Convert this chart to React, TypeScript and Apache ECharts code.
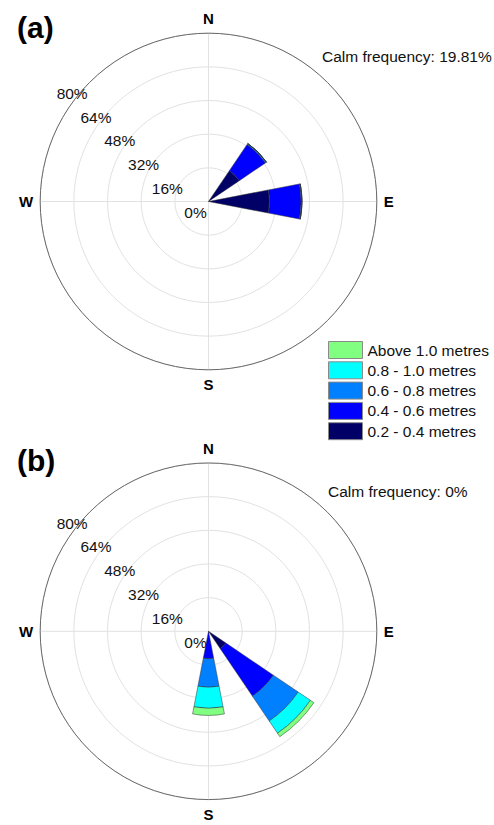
import React, { useEffect, useRef } from 'react';
import * as echarts from 'echarts';

const directions = ['N', 'NNE', 'NE', 'ENE', 'E', 'ESE', 'SE', 'SSE', 'S', 'SSW', 'SW', 'WSW', 'W', 'WNW', 'NW', 'NNW'];
const compassLabels = ['N', 'E', 'S', 'W'];
const radiusTicks = [0, 16, 32, 48, 64, 80];
const classNames = ['0.2 - 0.4 metres', '0.4 - 0.6 metres', '0.6 - 0.8 metres', '0.8 - 1.0 metres', 'Above 1.0 metres'];
const legendOrder = ['Above 1.0 metres', '0.8 - 1.0 metres', '0.6 - 0.8 metres', '0.4 - 0.6 metres', '0.2 - 0.4 metres'];
const classColors = ['#000066', '#0000FF', '#0080FF', '#00FFFF', '#80FF80'];

// Panel (a) frequency (%) per direction, per wave-height class
const a_h02_04 = [0, 0, 17.7, 0, 29, 0, 0, 0, 0, 0, 0, 0, 0, 0, 0, 0];
const a_h04_06 = [0, 0, 15.0, 0, 15, 0, 0, 0, 0, 0, 0, 0, 0, 0, 0, 0];
const a_h06_08 = [0, 0, 0.6, 0, 0.4, 0, 0, 0, 0, 0, 0, 0, 0, 0, 0, 0];
const a_h08_10 = [0, 0, 0, 0, 0, 0, 0, 0, 0, 0, 0, 0, 0, 0, 0, 0];
const a_h10_up = [0, 0, 0, 0, 0, 0, 0, 0, 0, 0, 0, 0, 0, 0, 0, 0];

// Panel (b)
const b_h02_04 = [0, 0, 0, 0, 0, 0, 10, 0, 0.5, 0, 0, 0, 0, 0, 0, 0];
const b_h04_06 = [0, 0, 0, 0, 0, 0, 27.2, 0, 12.5, 0, 0, 0, 0, 0, 0, 0];
const b_h06_08 = [0, 0, 0, 0, 0, 0, 14.3, 0, 13.6, 0, 0, 0, 0, 0, 0, 0];
const b_h08_10 = [0, 0, 0, 0, 0, 0, 7.0, 0, 10.0, 0, 0, 0, 0, 0, 0, 0];
const b_h10_up = [0, 0, 0, 0, 0, 0, 2.0, 0, 3.4, 0, 0, 0, 0, 0, 0, 0];

const calmA = '19.81%';
const calmB = '0%';

const FONT = '"Liberation Sans", Arial, sans-serif';

export default function App() {
  const ref = useRef<HTMLDivElement>(null);
  useEffect(() => {
    if (!ref.current) return;
    const chart = echarts.init(ref.current, undefined, { renderer: 'svg' });

    const R = 168.3;
    const panels = [
      { center: [208.5, 201.5], data: [a_h02_04, a_h04_06, a_h06_08, a_h08_10, a_h10_up], stack: 'a' },
      { center: [208.5, 631.3], data: [b_h02_04, b_h04_06, b_h06_08, b_h08_10, b_h10_up], stack: 'b' },
    ];

    const polar: any[] = [];
    const angleAxis: any[] = [];
    const radiusAxis: any[] = [];
    const series: any[] = [];

    panels.forEach((p, pi) => {
      const base = pi * 3;
      // bars polar
      polar.push({ center: p.center, radius: R });
      angleAxis.push({
        polarIndex: base, type: 'category', data: directions, startAngle: 101.25, clockwise: true,
        boundaryGap: true, axisLine: { show: false }, axisTick: { show: false }, axisLabel: { show: false }, splitLine: { show: false },
      });
      radiusAxis.push({
        polarIndex: base, type: 'value', min: 0, max: 80, interval: 16,
        axisLine: { show: false }, axisTick: { show: false }, axisLabel: { show: false }, splitLine: { show: false },
      });
      // grid polar
      polar.push({ center: p.center, radius: R });
      angleAxis.push({
        polarIndex: base + 1, type: 'value', min: 0, max: 360, interval: 90, startAngle: 90, clockwise: true,
        axisLine: { show: true, lineStyle: { color: '#6a6a6a', width: 1 } },
        axisTick: { show: false },
        axisLabel: {
          show: true, margin: 7, fontFamily: FONT, fontSize: 15, fontWeight: 'bold', color: '#000',
          formatter: (v: number) => compassLabels[Math.round(v / 90)] ?? '',
        },
        splitLine: { show: true, lineStyle: { color: '#e2e2e2', width: 1 } },
        z: 0,
      });
      radiusAxis.push({
        polarIndex: base + 1, type: 'value', min: 0, max: 80, interval: 16,
        axisLine: { show: false }, axisTick: { show: false }, axisLabel: { show: false },
        splitLine: { show: true, lineStyle: { color: '#e2e2e2', width: 1 } },
        z: 0,
      });
      // label polar (offset slightly so labels sit below-left of the rings)
      polar.push({ center: [p.center[0] + 1, p.center[1] + 8], radius: R });
      angleAxis.push({
        polarIndex: base + 2, type: 'value', min: 0, max: 360, startAngle: 135,
        axisLine: { show: false }, axisTick: { show: false }, axisLabel: { show: false }, splitLine: { show: false },
      });
      radiusAxis.push({
        polarIndex: base + 2, type: 'value', min: radiusTicks[0], max: radiusTicks[radiusTicks.length - 1], interval: radiusTicks[1] - radiusTicks[0],
        axisLine: { show: false }, axisTick: { show: false }, splitLine: { show: false },
        axisLabel: { show: true, margin: 4, fontFamily: FONT, fontSize: 15.5, color: '#111', formatter: '{value}%' },
      });

      p.data.forEach((d, ci) => {
        series.push({
          type: 'bar', name: classNames[ci], coordinateSystem: 'polar', polarIndex: base,
          stack: p.stack, data: d, barCategoryGap: '3%',
          itemStyle: { color: classColors[ci], borderColor: '#333', borderWidth: 0.5 },
          emphasis: { disabled: true },
        });
      });
    });

    chart.setOption({
      animation: false,
      polar, angleAxis, radiusAxis, series,
      legend: {
        data: legendOrder, orient: 'vertical', left: 328, top: 341, padding: 0,
        itemWidth: 34, itemHeight: 17, itemGap: 2.3, icon: 'rect',
        itemStyle: { borderColor: '#8a8a8a', borderWidth: 1 },
        textStyle: { fontFamily: FONT, fontSize: 15.5, color: '#111' },
        selectedMode: false,
      },
      graphic: [
        { type: 'text', left: 17, top: 12, style: { text: '(a)', font: `bold 30px ${FONT}`, fill: '#000' } },
        { type: 'text', left: 17, top: 445, style: { text: '(b)', font: `bold 30px ${FONT}`, fill: '#000' } },
        { type: 'text', left: 322, top: 48, style: { text: `Calm frequency: ${calmA}`, font: `15.5px ${FONT}`, fill: '#111' } },
        { type: 'text', left: 328, top: 483, style: { text: `Calm frequency: ${calmB}`, font: `15.5px ${FONT}`, fill: '#111' } },
      ],
    });
    return () => chart.dispose();
  }, []);
  return <div ref={ref} style={{ position: 'absolute', left: 0, top: 0, width: 494, height: 825, background: '#fff' }} />;
}
